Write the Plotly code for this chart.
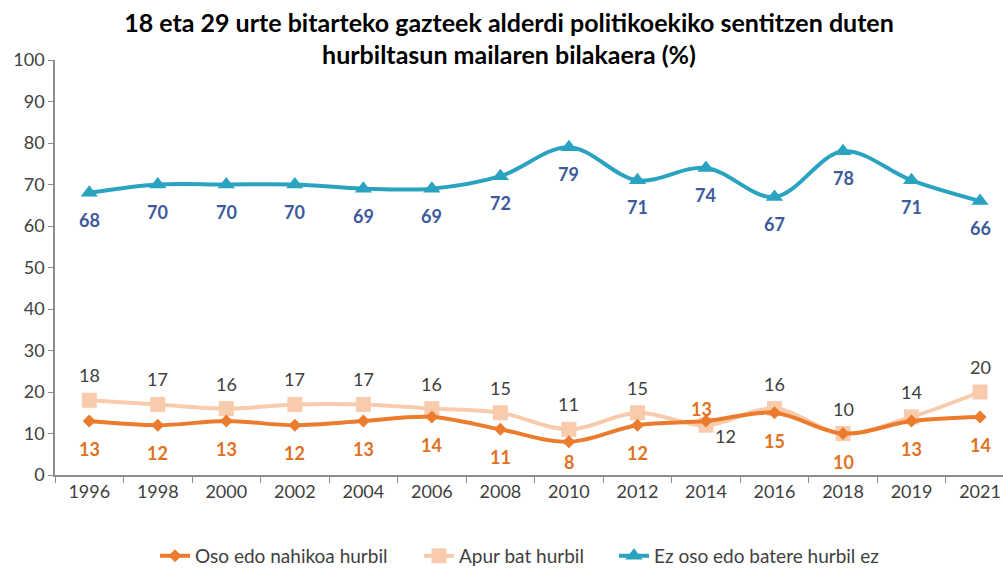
import plotly.graph_objects as go

years = ["1996", "1998", "2000", "2002", "2004", "2006", "2008", "2010",
         "2012", "2014", "2016", "2018", "2019", "2021"]
oso = [13, 12, 13, 12, 13, 14, 11, 8, 12, 13, 15, 10, 13, 14]
apur = [18, 17, 16, 17, 17, 16, 15, 11, 15, 12, 16, 10, 14, 20]
ez = [68, 70, 70, 70, 69, 69, 72, 79, 71, 74, 67, 78, 71, 66]
names = ["Oso edo nahikoa hurbil", "Apur bat hurbil", "Ez oso edo batere hurbil ez"]
y_ticks = [0, 10, 20, 30, 40, 50, 60, 70, 80, 90, 100]

FONT = "Lato"
C_OSO = "#EB7B2D"
C_APUR = "#F8CBAD"
C_EZ = "#2AA3C1"
C_OSO_LBL = "#E0711F"
C_EZ_LBL = "#3D5A9C"
C_TXT = "#404040"

fig = go.Figure()
fig.add_trace(go.Scatter(x=years, y=apur, name=names[1], mode="lines+markers",
                         legend="legend2",
                         line=dict(color=C_APUR, width=4, shape="spline", smoothing=1),
                         marker=dict(symbol="square", size=15, color=C_APUR)))
fig.add_trace(go.Scatter(x=years, y=oso, name=names[0], mode="lines+markers",
                         legend="legend",
                         line=dict(color=C_OSO, width=4, shape="spline", smoothing=1),
                         marker=dict(symbol="diamond", size=10, color=C_OSO)))
fig.add_trace(go.Scatter(x=years, y=ez, name=names[2], mode="lines+markers",
                         legend="legend3",
                         line=dict(color=C_EZ, width=4, shape="spline", smoothing=1),
                         marker=dict(symbol="triangle-up", size=15, color=C_EZ)))

ann = []
for i, yr in enumerate(years):
    if yr == "2014":
        ann.append(dict(xref="x", yref="y", x=i, y=oso[i], text="<b>%d</b>" % oso[i],
                        yshift=12, xshift=-4, showarrow=False,
                        font=dict(family=FONT, size=18, color=C_OSO_LBL)))
        ann.append(dict(xref="x", yref="y", x=i, y=apur[i], text="%d" % apur[i],
                        yshift=-11, xshift=20, showarrow=False,
                        font=dict(family=FONT, size=18, color=C_TXT)))
    else:
        ann.append(dict(xref="x", yref="y", x=i, y=oso[i], text="<b>%d</b>" % oso[i],
                        yshift=-20 if yr == "2010" else -28, showarrow=False,
                        font=dict(family=FONT, size=18, color=C_OSO_LBL)))
        ann.append(dict(xref="x", yref="y", x=i, y=apur[i], text="%d" % apur[i],
                        yshift=25, showarrow=False,
                        font=dict(family=FONT, size=18, color=C_TXT)))
    ann.append(dict(xref="x", yref="y", x=i, y=ez[i], text="<b>%d</b>" % ez[i],
                    yshift=-27, showarrow=False,
                    font=dict(family=FONT, size=18, color=C_EZ_LBL)))

leg_common = dict(orientation="h", y=-0.195, yanchor="middle", xanchor="left",
                  font=dict(family=FONT, size=19, color=C_TXT), bgcolor="rgba(0,0,0,0)")

fig.update_layout(
    width=1003, height=570,
    margin=dict(l=55, r=0, t=60, b=95, autoexpand=False),
    paper_bgcolor="white", plot_bgcolor="white",
    title=dict(text="18 eta 29 urte bitarteko gazteek alderdi politikoekiko sentitzen duten<br>hurbiltasun mailaren bilakaera (%)",
               x=509 / 1003, xanchor="center", y=0.944, yanchor="middle",
               font=dict(family=FONT, size=25, color="#000000", weight="bold")),
    annotations=ann,
    showlegend=True,
    legend=dict(x=(155 - 55) / 948, **leg_common),
    legend2=dict(x=(419 - 55) / 948, **leg_common),
    legend3=dict(x=(614 - 55) / 948, **leg_common),
    xaxis=dict(type="category", range=[-0.5, 13.335], showgrid=False,
               showline=True, linecolor="#8C8C8C", linewidth=1.5,
               ticks="outside", ticklen=6, tickcolor="#8C8C8C", tickson="boundaries",
               tickfont=dict(family=FONT, size=18, color=C_TXT)),
    yaxis=dict(range=[0, 100], tickvals=y_ticks, showgrid=False, zeroline=False,
               showline=True, linecolor="#8C8C8C", linewidth=1.5,
               ticks="outside", ticklen=5, tickcolor="#8C8C8C",
               tickfont=dict(family=FONT, size=18, color=C_TXT)),
)

fig.write_html("out.html", config={"displayModeBar": False},
               post_script="document.body.style.margin='0';document.body.style.overflow='hidden';")
